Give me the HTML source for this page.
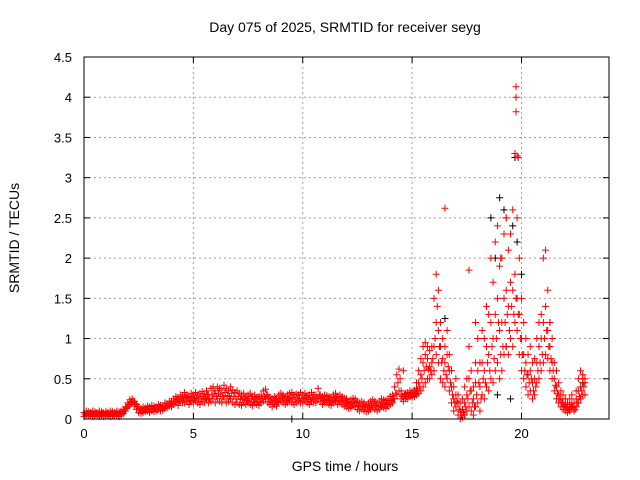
<!DOCTYPE html>
<html><head><meta charset="utf-8"><style>
body{margin:0;background:#fff}
svg{display:block;font-family:"Liberation Sans",sans-serif}
</style></head><body>
<svg id="chart" width="640" height="480">
<text x="345" y="32" font-size="14" text-anchor="middle">Day 075 of 2025, SRMTID for receiver seyg</text>
<text x="345" y="471" font-size="14" text-anchor="middle">GPS time / hours</text>
<text transform="translate(19,238) rotate(-90)" font-size="14" text-anchor="middle">SRMTID / TECUs</text>
<g id="grid"></g><g id="marks"></g>
<rect x="84" y="57" width="525" height="362" fill="none" stroke="#000"/>
</svg>
<script>
const xTicks=[0,5,10,15,20];
const yTicks=[0,0.5,1,1.5,2,2.5,3,3.5,4,4.5];
const yTickLabels=["0","0.5","1","1.5","2","2.5","3","3.5","4","4.5"];
const baseStart=0, baseStep=0.1;
const baseHi=[0.08,0.1,0.09,0.08,0.1,0.09,0.08,0.1,0.09,0.08,0.09,0.08,0.1,0.09,0.08,0.1,0.09,0.1,0.12,0.15,
0.2,0.24,0.25,0.22,0.18,0.15,0.13,0.15,0.14,0.16,0.15,0.17,0.16,0.15,0.18,0.17,0.16,0.2,0.19,0.22,
0.22,0.25,0.28,0.26,0.3,0.28,0.33,0.3,0.28,0.32,0.3,0.33,0.3,0.32,0.34,0.31,0.35,0.3,0.38,0.4,
0.35,0.4,0.38,0.36,0.42,0.38,0.35,0.4,0.36,0.33,0.35,0.32,0.3,0.32,0.28,0.3,0.32,0.28,0.3,0.27,
0.28,0.3,0.35,0.37,0.3,0.27,0.25,0.28,0.26,0.3,0.32,0.3,0.28,0.3,0.32,0.33,0.3,0.31,0.3,0.33,
0.3,0.32,0.29,0.3,0.33,0.3,0.3,0.38,0.3,0.28,0.3,0.29,0.28,0.27,0.3,0.32,0.28,0.3,0.28,0.26,
0.25,0.22,0.24,0.26,0.25,0.22,0.2,0.22,0.2,0.18,0.2,0.22,0.24,0.22,0.2,0.22,0.25,0.24,0.23,0.25,
0.28,0.3,0.4,0.55,0.62];
const baseLo=[0.03,0.04,0.05,0.04,0.03,0.05,0.04,0.03,0.04,0.03,0.05,0.04,0.03,0.04,0.05,0.04,0.03,0.05,0.07,0.1,
0.15,0.18,0.2,0.16,0.12,0.08,0.07,0.08,0.09,0.1,0.08,0.1,0.09,0.1,0.12,0.1,0.11,0.13,0.14,0.16,
0.15,0.18,0.2,0.17,0.22,0.2,0.2,0.22,0.18,0.22,0.2,0.22,0.2,0.18,0.22,0.2,0.24,0.2,0.22,0.25,
0.2,0.25,0.22,0.2,0.25,0.2,0.22,0.25,0.2,0.18,0.2,0.18,0.17,0.2,0.18,0.2,0.18,0.17,0.2,0.18,
0.17,0.2,0.22,0.25,0.2,0.18,0.15,0.18,0.16,0.2,0.22,0.2,0.18,0.2,0.22,0.2,0.18,0.2,0.22,0.2,
0.2,0.22,0.2,0.18,0.22,0.2,0.2,0.25,0.22,0.18,0.2,0.2,0.18,0.17,0.2,0.22,0.18,0.2,0.18,0.16,
0.15,0.13,0.14,0.16,0.15,0.12,0.1,0.12,0.1,0.09,0.1,0.12,0.14,0.12,0.1,0.12,0.15,0.14,0.13,0.16,
0.18,0.2,0.25,0.3,0.35];
const baseMidStart=0.05;
const baseMid=[0.06,0.07,0.06,0.07,0.06,0.07,0.06,0.06,0.07,0.06,0.07,0.06,0.07,0.06,0.07,0.06,0.07,0.08,0.1,0.13,
0.18,0.21,0.22,0.19,0.15,0.11,0.1,0.11,0.12,0.13,0.12,0.13,0.13,0.12,0.15,0.14,0.14,0.16,0.17,0.19,
0.19,0.22,0.24,0.22,0.26,0.24,0.27,0.26,0.23,0.27,0.25,0.27,0.25,0.25,0.28,0.26,0.3,0.25,0.3,0.32,
0.28,0.32,0.3,0.28,0.33,0.29,0.28,0.32,0.28,0.25,0.28,0.25,0.24,0.26,0.23,0.25,0.25,0.22,0.25,0.22,
0.22,0.25,0.28,0.3,0.25,0.22,0.2,0.23,0.21,0.25,0.27,0.25,0.23,0.25,0.27,0.26,0.24,0.26,0.26,0.26,
0.25,0.27,0.25,0.24,0.27,0.25,0.25,0.3,0.26,0.23,0.25,0.24,0.23,0.22,0.25,0.27,0.23,0.25,0.23,0.21,
0.2,0.18,0.19,0.21,0.2,0.17,0.15,0.17,0.15,0.14,0.15,0.17,0.19,0.17,0.15,0.17,0.2,0.19,0.18,0.2,
0.23,0.25,0.32,0.45,0.5];
const activeStart=14.5, activeStep=0.1;
const activeA=[0.25,0.22,0.25,0.25,0.28,0.27,0.28,0.3,0.32,0.35,0.4,0.45,0.5,0.5,0.55,0.6,0.8,0.7,0.5,0.45,0.4,0.5,0.35,0.2,0.1,0.15,0.05,0.0,0.02,0.05,0.1,0.15,0.1,0.05,0.15,0.2,0.1,0.3,0.25,0.4,0.35,0.5,0.45,0.6,0.7,0.5,0.6,0.8,0.9,0.8,1.0,0.9,1.2,1.1,0.8,0.6,0.5,0.4,0.3,0.35,0.25,0.3,0.45,0.5,0.6,0.7,0.8,0.75,0.6,0.5,0.35,0.25,0.2,0.15,0.12,0.1,0.08,0.1,0.12,0.1,0.15,0.2,0.25,0.3,0.3];
const activeB=[0.3,0.28,0.3,0.3,0.32,0.3,0.33,0.38,0.45,0.55,0.7,0.8,0.75,0.65,0.7,0.9,1.2,1.1,0.9,0.75,0.7,0.8,0.6,0.4,0.25,0.3,0.2,0.1,0.12,0.2,0.3,0.5,0.35,0.25,0.45,0.6,0.4,0.7,0.6,0.9,0.8,1.2,1.0,1.3,1.5,1.1,1.2,1.5,1.6,1.4,1.7,1.6,1.8,1.5,1.3,1.0,0.8,0.7,0.55,0.6,0.45,0.5,0.7,0.9,1.0,1.2,1.4,1.1,0.9,0.7,0.5,0.4,0.3,0.25,0.2,0.18,0.15,0.18,0.2,0.15,0.25,0.35,0.4,0.5,0.45];
const activeC=[0.35,0.6,0.32,0.33,0.35,0.33,0.36,0.45,0.6,0.75,0.9,0.95,0.9,0.85,0.9,1.5,1.8,1.6,1.2,1.0,0.9,1.1,0.8,0.6,0.4,0.5,0.3,0.2,0.25,0.4,0.5,0.9,0.6,0.4,0.7,1.0,0.7,1.1,1.0,1.4,1.3,2.0,1.7,2.2,2.4,1.9,2.0,2.3,2.5,2.1,2.3,2.6,3.3,2.5,2.0,1.5,1.2,1.0,0.8,0.9,0.7,0.75,1.0,1.2,1.3,2.0,2.1,1.6,1.2,1.0,0.7,0.6,0.45,0.35,0.3,0.25,0.2,0.25,0.3,0.2,0.35,0.5,0.6,0.55,0.5];
const activeMidStart=14.55;
const activeD=[0.28,0.3,0.28,0.29,0.3,0.3,0.31,0.35,0.4,0.5,0.6,0.65,0.62,0.6,0.75,1.0,1.4,0.9,0.7,0.6,0.55,0.65,0.45,0.3,0.2,0.22,0.12,0.05,0.08,0.15,0.25,0.35,0.2,0.15,0.3,0.45,0.25,0.5,0.45,0.7,0.6,0.9,0.75,1.0,1.2,0.8,0.9,1.2,1.3,1.1,1.4,1.3,1.5,1.3,1.0,0.8,0.6,0.55,0.45,0.5,0.35,0.4,0.6,0.7,0.8,1.0,1.1,0.9,0.75,0.6,0.42,0.32,0.25,0.2,0.16,0.14,0.12,0.14,0.16,0.12,0.2,0.28,0.35,0.4];
const outT=[16.5,17.6,19.75,19.75,19.75,19.8,19.85,19.3,17.9,19.05];
const outV=[2.62,1.85,4.13,4.0,3.82,3.27,3.25,2.5,1.2,2.0];
const blackT=[18.6,19.0,19.7,19.2,19.6,19.8,18.8,20.0,16.5,19.3,18.9,19.5,9.5,22.8,21.3];
const blackV=[2.5,2.75,3.25,2.6,2.4,2.2,2.0,1.8,1.25,0.9,0.3,0.25,0.0,0.45,1.2];

const X0=84,X1=609,Y0=419,Y1=57,XMAX=24,YMAX=4.5;
const xs=t=>X0+(X1-X0)*t/XMAX, ys=v=>Y0-(Y0-Y1)*v/YMAX;
const NS="http://www.w3.org/2000/svg";
const grid=document.getElementById('grid'), marks=document.getElementById('marks');
function mk(tag,parent){const e=document.createElementNS(NS,tag);parent.appendChild(e);return e;}
xTicks.forEach(t=>{const x=xs(t);
 if(t>0){const g=mk('line',grid);g.setAttribute('x1',x);g.setAttribute('x2',x);g.setAttribute('y1',Y1);g.setAttribute('y2',Y0);g.setAttribute('stroke','#a0a0a0');g.setAttribute('stroke-dasharray','2,3');
 
 }
 [[Y0,Y0-6],[Y1,Y1+6]].forEach(p=>{const k=mk('line',grid);k.setAttribute('x1',x);k.setAttribute('x2',x);k.setAttribute('y1',p[0]);k.setAttribute('y2',p[1]);k.setAttribute('stroke','#000');
 
 });
 const l=mk('text',grid);l.textContent=t;l.setAttribute('x',x);l.setAttribute('y',Y0+19);l.setAttribute('font-size','13');l.setAttribute('text-anchor','middle');
 
 
});
yTicks.forEach((v,i)=>{const y=ys(v);
 if(v>0&&v<YMAX){const g=mk('line',grid);g.setAttribute('x1',X0);g.setAttribute('x2',X1);g.setAttribute('y1',y);g.setAttribute('y2',y);g.setAttribute('stroke','#a0a0a0');g.setAttribute('stroke-dasharray','2,3');
 
 }
 [[X0,X0+6],[X1,X1-6]].forEach(p=>{const k=mk('line',grid);k.setAttribute('x1',p[0]);k.setAttribute('x2',p[1]);k.setAttribute('y1',y);k.setAttribute('y2',y);k.setAttribute('stroke','#000');
 
 });
 const l=mk('text',grid);l.textContent=yTickLabels[i];l.setAttribute('x',X0-12);l.setAttribute('y',y+5);l.setAttribute('font-size','13');l.setAttribute('text-anchor','end');
 
 
});
function plus(t,v,color,name){const x=xs(t),y=ys(v);const p=mk('path',marks);
 p.setAttribute('d',`M${x-3.5},${y}H${x+3.5}M${x},${y-3.5}V${y+3.5}`);p.setAttribute('stroke',color);p.setAttribute('stroke-width','1');
 
 }
blackT.forEach((t,i)=>plus(t,blackV[i],'#000','black-point'));
[baseHi,baseLo].forEach(a=>a.forEach((v,i)=>plus(baseStart+i*baseStep,v,'#f00','red-point')));
baseMid.forEach((v,i)=>plus(baseMidStart+i*baseStep,v,'#f00','red-point'));
[activeA,activeB,activeC].forEach(a=>a.forEach((v,i)=>plus(activeStart+i*activeStep,v,'#f00','red-point')));
activeD.forEach((v,i)=>plus(activeMidStart+i*activeStep,v,'#f00','red-point'));
outT.forEach((t,i)=>plus(t,outV[i],'#f00','red-point'));
</script>
</body></html>
